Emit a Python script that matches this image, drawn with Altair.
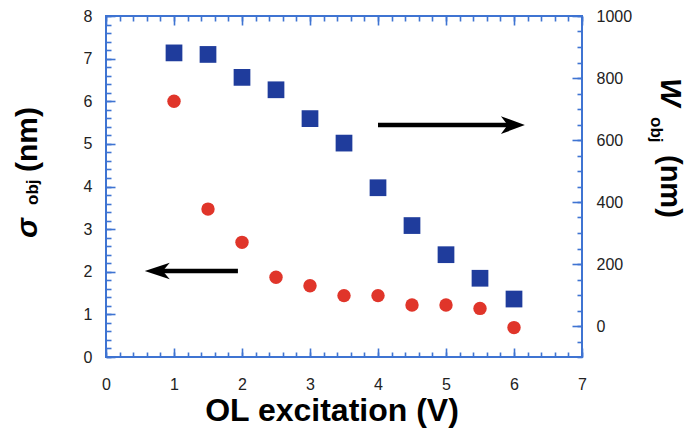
import altair as alt
import pandas as pd

# ---------------- data ----------------
volts = [1.0, 1.5, 2.0, 2.5, 3.0, 3.5, 4.0, 4.5, 5.0, 5.5, 6.0]
sigma_nm = [6.0, 3.47, 2.69, 1.87, 1.67, 1.44, 1.44, 1.22, 1.22, 1.14, 0.69]
w_nm = [881, 876, 802, 762, 669, 590, 446, 324, 230, 154, 87]

x_major = [0, 1, 2, 3, 4, 5, 6, 7]
x_minor = [round(i * 0.2, 1) for i in range(36)]
s_major = [0, 1, 2, 3, 4, 5, 6, 7, 8]
s_minor = [round(i * 0.2, 1) for i in range(41)]
w_major = [0, 200, 400, 600, 800, 1000]
w_minor = [-100 + 50 * i for i in range(23)]

# annotation arrows (left one in sigma units, right one in W units)
arrow_left = {"start": [0.78], "end": [1.94], "tip": [0.57], "level": [2.02]}
arrow_right = {"start": [4.0], "end": [6.0], "tip": [6.16], "level": [648]}

# ---------------- styling ----------------
FONT = "Liberation Sans"
RED = "#e0352a"
BLUE = "#1f3c9c"
AXIS = "#3f74d2"
LABEL = "#222222"

df = pd.DataFrame({"v": volts, "sigma": sigma_nm, "w": w_nm})
dfl = pd.DataFrame(arrow_left)
dfr = pd.DataFrame(arrow_right)

xs = alt.Scale(domain=[0, 7], nice=False, zero=False)
ss = alt.Scale(domain=[0, 8], nice=False, zero=False)
ws = alt.Scale(domain=[-100, 1000], nice=False, zero=False)


def label_axis(orient, values, pad):
    return alt.Axis(orient=orient, values=values, ticks=False, domain=False, grid=False,
                    labelFontSize=16, labelFont=FONT, labelColor=LABEL, format="d",
                    labelPadding=pad, labelFlush=False, title=None)


def tick_axis(orient, values, size):
    # inward-pointing ticks: axis pulled inside the frame by its own tick length
    return alt.Axis(orient=orient, values=values, labels=True, labelExpr="''",
                    labelOpacity=0, domain=True, domainOpacity=0, grid=False,
                    ticks=True, tickSize=size, offset=-size, tickColor=AXIS,
                    tickOpacity=1, tickWidth=1.6, title=None, zindex=1)


def X(axis, field="v:Q"):
    return alt.X(field, scale=xs, axis=axis)


base = alt.Chart(df)

# ----- sigma (left axis) group -----
circles = base.mark_circle(size=180, color=RED, opacity=1).encode(
    x=X(label_axis("bottom", x_major, 19)),
    y=alt.Y("sigma:Q", scale=ss, axis=label_axis("left", s_major, 14)),
)
s_major_l = base.mark_circle(opacity=0).encode(
    x=X(tick_axis("bottom", x_major, 9)),
    y=alt.Y("sigma:Q", scale=ss, axis=tick_axis("left", s_major, 9)),
)
s_minor_l = base.mark_circle(opacity=0).encode(
    x=X(tick_axis("bottom", x_minor, 5)),
    y=alt.Y("sigma:Q", scale=ss, axis=tick_axis("left", s_minor, 5)),
)
top_major_l = base.mark_circle(opacity=0).encode(
    x=X(tick_axis("top", x_major, 9)),
    y=alt.Y("sigma:Q", scale=ss, axis=None),
)
top_minor_l = base.mark_circle(opacity=0).encode(
    x=X(tick_axis("top", x_minor, 5)),
    y=alt.Y("sigma:Q", scale=ss, axis=None),
)
left_line = alt.Chart(dfl).mark_rule(color="black", strokeWidth=4.5).encode(
    x=X(None, "start:Q"), x2="end:Q",
    y=alt.Y("level:Q", scale=ss, axis=None),
)
left_head = alt.Chart(dfl).mark_point(
    shape="M0,0 L1,-0.33 L0.72,0 L1,0.33 Z", filled=True, size=2500,
    color="black", opacity=1, strokeWidth=0.5,
).encode(
    x=X(None, "tip:Q"),
    y=alt.Y("level:Q", scale=ss, axis=None),
)
sigma_group = alt.layer(
    s_minor_l, s_major_l, top_minor_l, top_major_l, circles, left_line, left_head
).resolve_axis(x="independent", y="independent")

# ----- W (right axis) group -----
squares = base.mark_square(size=280, color=BLUE, opacity=1).encode(
    x=X(None),
    y=alt.Y("w:Q", scale=ws, axis=label_axis("right", w_major, 14)),
)
w_major_l = base.mark_square(opacity=0).encode(
    x=X(None),
    y=alt.Y("w:Q", scale=ws, axis=tick_axis("right", w_major, 10)),
)
w_minor_l = base.mark_square(opacity=0).encode(
    x=X(None),
    y=alt.Y("w:Q", scale=ws, axis=tick_axis("right", w_minor, 5)),
)
right_line = alt.Chart(dfr).mark_rule(color="black", strokeWidth=4.5).encode(
    x=X(None, "start:Q"), x2="end:Q",
    y=alt.Y("level:Q", scale=ws, axis=None),
)
right_head = alt.Chart(dfr).mark_point(
    shape="M0,0 L-1,-0.37 L-0.72,0 L-1,0.37 Z", filled=True, size=2300,
    color="black", opacity=1, strokeWidth=0.5,
).encode(
    x=X(None, "tip:Q"),
    y=alt.Y("level:Q", scale=ws, axis=None),
)
w_group = alt.layer(
    w_minor_l, w_major_l, squares, right_line, right_head
).resolve_axis(x="independent", y="independent")


# ----- titles (with subscripts) -----
def title_text(txt, x, y, size, angle, align="left", italic=False):
    return alt.Chart(pd.DataFrame({"t": [txt]})).mark_text(
        font=FONT, fontSize=size, fontWeight="bold",
        fontStyle="italic" if italic else "normal",
        angle=angle, align=align, baseline="alphabetic", color="black",
    ).encode(x=alt.value(x), y=alt.value(y), text="t:N")


titles = [
    title_text("OL excitation (V)", 226, 405, 32, 0, align="center"),
    title_text("σ", -69, 222, 30, 270, italic=True),
    title_text("obj", -68, 189, 17, 270),
    title_text("(nm)", -69, 156, 30, 270),
    title_text("W", 555, 62, 30, 90, italic=True),
    title_text("obj", 545, 101, 17, 90),
    title_text("(nm)", 555, 139, 29, 90),
]

chart = alt.layer(sigma_group, w_group, *titles).resolve_scale(
    y="independent"
).resolve_axis(x="independent", y="independent").properties(
    width=476, height=341,
    padding={"left": 98, "top": 8, "right": 107, "bottom": 72},
    autosize=alt.AutoSizeParams(type="none"),
    background="white",
).configure_view(stroke=AXIS, strokeWidth=2).configure_axis(grid=False)

chart.save("out.html", embed_options={"renderer": "svg", "actions": False})
